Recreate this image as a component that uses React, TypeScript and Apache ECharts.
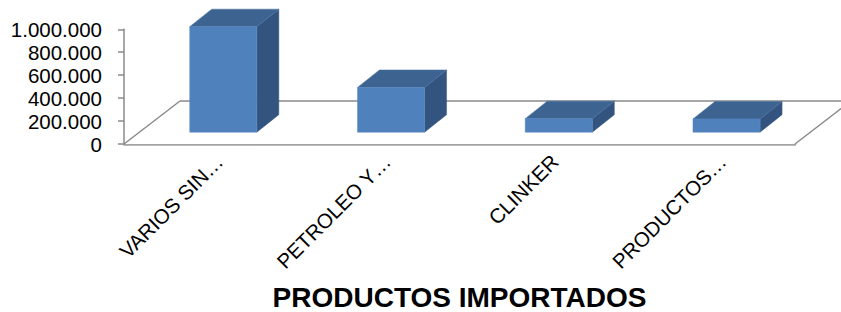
import React, { useEffect, useRef } from "react";
import * as echarts from "echarts";

const categories = ["VARIOS SIN…", "PETROLEO Y…", "CLINKER", "PRODUCTOS…"];
const values = [920000, 390000, 118000, 115000];
const axisTitle = "PRODUCTOS IMPORTADOS";
const yMin = 0;
const yMax = 1000000;
const yStep = 200000;

const fmt = (v: number) => String(v).replace(/\B(?=(\d{3})+(?!\d))/g, ".");

const FONT = "'Liberation Sans', Arial, sans-serif";

export default function App() {
  const ref = useRef<HTMLDivElement>(null);
  useEffect(() => {
    if (!ref.current) return;
    const chart = echarts.init(ref.current, undefined, { renderer: "svg" });
    const floorDx = 56;
    const floorDy = -43;
    const frontT = 0.275;
    const barDx = 22;
    const barDy = -17.5;
    const option: any = {
      animation: false,
      backgroundColor: "#ffffff",
      grid: { left: 124, right: 46, top: 29.3, bottom: 164.7, containLabel: false },
      xAxis: {
        type: "category",
        data: categories,
        axisLine: { show: true, lineStyle: { color: "#a3a3a3", width: 2.5 } },
        axisTick: { show: false },
        axisLabel: { show: false },
        splitLine: { show: false },
        name: axisTitle,
        nameLocation: "middle",
        nameGap: 139,
        nameTextStyle: {
          fontSize: 28,
          fontWeight: "bold",
          color: "#000",
          fontFamily: FONT,
          verticalAlign: "top",
          lineHeight: 28,
        },
      },
      yAxis: {
        type: "value",
        min: yMin,
        max: yMax,
        interval: yStep,
        axisLine: { show: true, lineStyle: { color: "#8a8a8a", width: 1.5 } },
        axisTick: { show: true, length: 6, lineStyle: { color: "#8a8a8a", width: 1.5 } },
        axisLabel: {
          formatter: (v: number) => fmt(v),
          fontSize: 20.5,
          color: "#000",
          fontFamily: FONT,
          margin: 22,
        },
        splitLine: { show: false },
      },
      series: [
        {
          type: "custom",
          clip: false,
          data: values.map((v, i) => [i, v]),
          renderItem: (params: any, api: any) => {
            const i = api.value(0);
            const v = api.value(1);
            const base = api.coord([i, 0]);
            const top = api.coord([i, v]);
            const bw = api.size([1, 0])[0] * 0.4;
            const ox = floorDx * frontT;
            const oy = floorDy * frontT;
            const cx = base[0] + ox;
            const x0 = cx - bw / 2;
            const x1 = cx + bw / 2;
            const yb = base[1] + oy;
            const yt = top[1] + oy;
            const children: any[] = [];
            if (params.dataIndex === 0) {
              const cs = params.coordSys;
              const L = cs.x;
              const R = cs.x + cs.width;
              const B = cs.y + cs.height;
              const lineStyle = { stroke: "#8a8a8a", lineWidth: 1.5, fill: null };
              children.push({
                type: "polygon",
                shape: { points: [[L, B], [R, B], [R + floorDx, B + floorDy], [L + floorDx, B + floorDy]] },
                style: { fill: "#ffffff" },
              });
              children.push({ type: "line", shape: { x1: L + floorDx, y1: B + floorDy, x2: R + floorDx, y2: B + floorDy }, style: lineStyle });
              children.push({ type: "line", shape: { x1: L, y1: B, x2: L + floorDx, y2: B + floorDy }, style: lineStyle });
              children.push({ type: "line", shape: { x1: R, y1: B, x2: R + floorDx, y2: B + floorDy }, style: lineStyle });
            }
            children.push({
              type: "polygon",
              shape: { points: [[x1, yt], [x1 + barDx, yt + barDy], [x1 + barDx, yb + barDy], [x1, yb]] },
              style: { fill: "#345480", stroke: "#3a5c8a", lineWidth: 0.5 },
            });
            children.push({
              type: "polygon",
              shape: { points: [[x0, yt], [x1, yt], [x1 + barDx, yt + barDy], [x0 + barDx, yt + barDy]] },
              style: { fill: "#3d6491", stroke: "#4670a0", lineWidth: 0.5 },
            });
            children.push({
              type: "rect",
              shape: { x: x0, y: yt, width: bw, height: yb - yt },
              style: { fill: "#4f81bd", stroke: "#5a8ac4", lineWidth: 0.5 },
            });
            children.push({
              type: "text",
              x: cx - 4,
              y: base[1] + 14,
              rotation: Math.PI / 4,
              style: {
                text: categories[i],
                align: "right",
                verticalAlign: "middle",
                fontSize: 20.5,
                fontFamily: FONT,
                fill: "#000",
              },
            });
            return { type: "group", children };
          },
        },
      ],
    };
    chart.setOption(option);
    return () => chart.dispose();
  }, []);
  return (
    <div
      ref={ref}
      style={{ position: "fixed", left: 0, top: 0, width: 841, height: 312, background: "#fff" }}
    />
  );
}
